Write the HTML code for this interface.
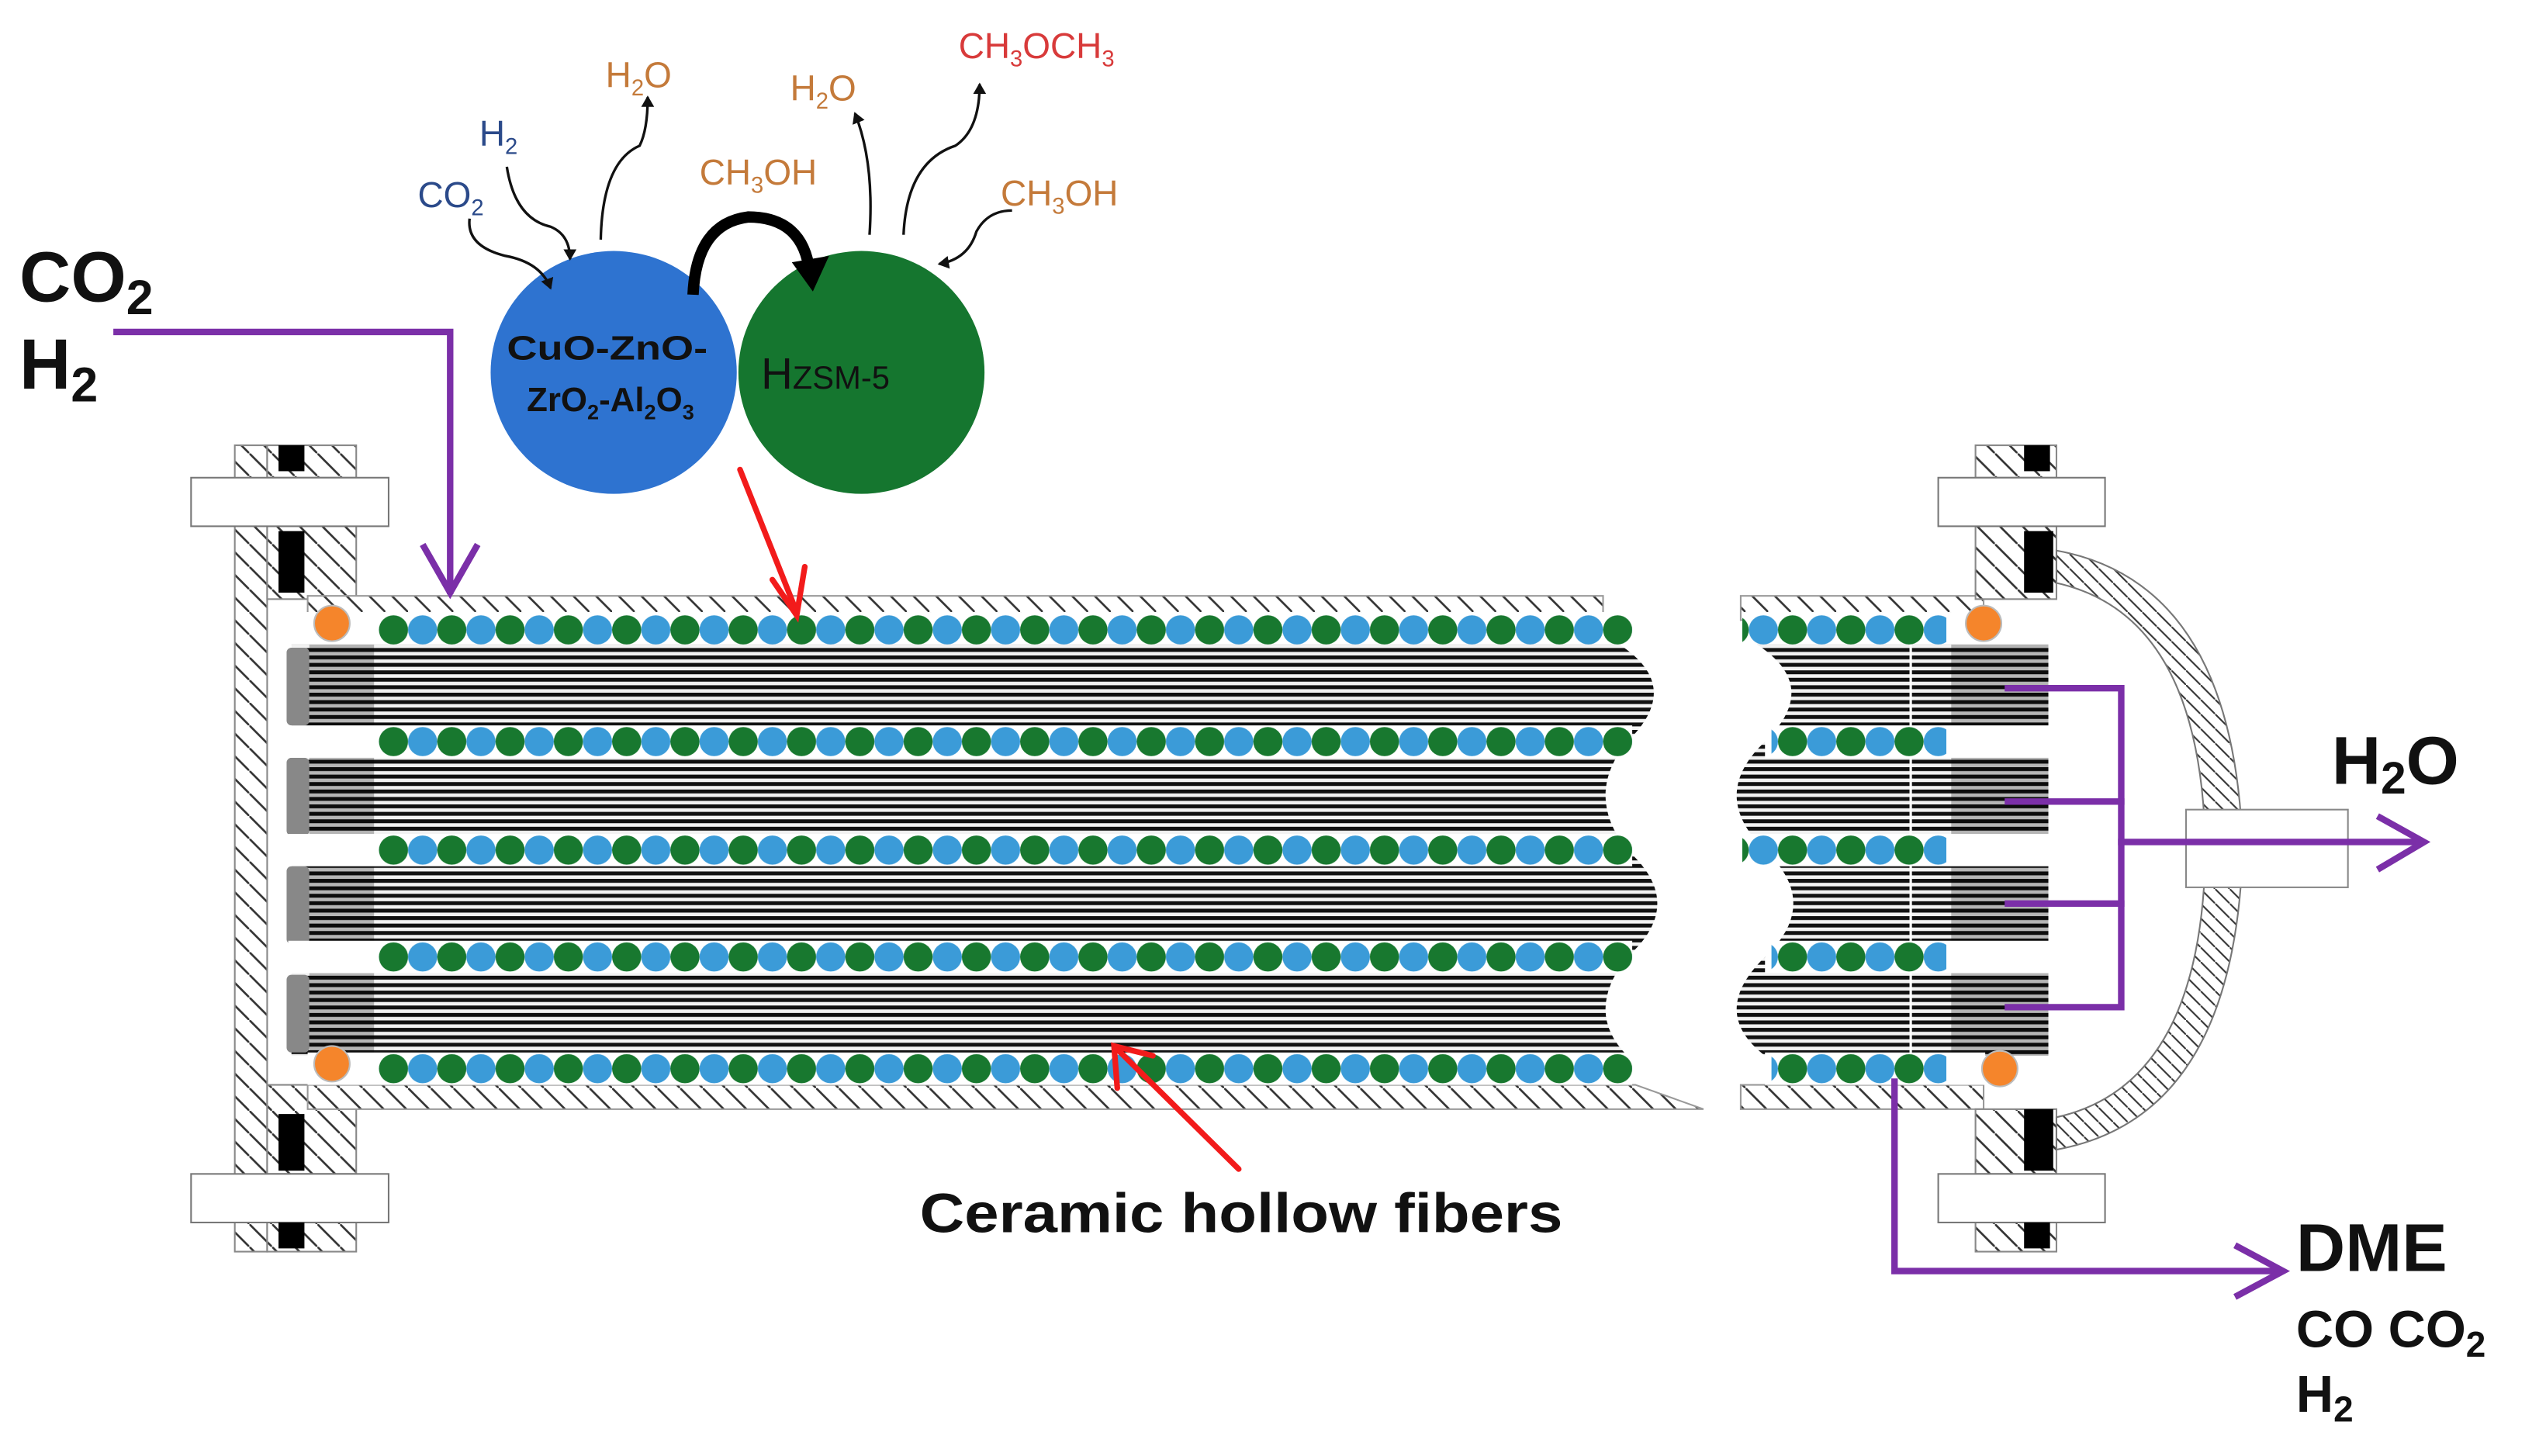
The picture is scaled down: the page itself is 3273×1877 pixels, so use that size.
<!DOCTYPE html>
<html><head><meta charset="utf-8"><style>
html,body{margin:0;padding:0;background:#fff;}
svg{display:block;}
text{font-family:"Liberation Sans",Arial,sans-serif;}
</style></head><body>
<svg width="3273" height="1877" viewBox="0 0 1568 899.2" xmlns="http://www.w3.org/2000/svg">
<defs>
<pattern id="stripes" patternUnits="userSpaceOnUse" width="20" height="4.6">
<rect width="20" height="4.6" fill="#f2f2f2"/>
<rect y="0" width="20" height="2.4" fill="#111"/>
</pattern>
<pattern id="hatch" patternUnits="userSpaceOnUse" width="14" height="14">
<rect width="14" height="14" fill="#fff"/>
<line x1="0" y1="0" x2="14" y2="14" stroke="#333" stroke-width="1.3"/>
</pattern>
<pattern id="hatch2" patternUnits="userSpaceOnUse" width="9" height="9">
<rect width="9" height="9" fill="#fff"/>
<line x1="0" y1="0" x2="9" y2="9" stroke="#333" stroke-width="1"/>
</pattern>
<pattern id="beads" patternUnits="userSpaceOnUse" x="234" y="0" width="36" height="20">
<circle cx="9" cy="10" r="9" fill="#18782f"/>
<circle cx="27" cy="10" r="9" fill="#3b9bd8"/>
</pattern>
<marker id="ab" markerWidth="8" markerHeight="8" refX="6" refY="4" orient="auto" markerUnits="userSpaceOnUse"><path d="M0,0 L7,4 L0,8 Z" fill="#111"/></marker>
</defs>

<rect x="145" y="275" width="20" height="498" fill="url(#hatch)" stroke="#888" stroke-width="1"/>
<rect x="165" y="275" width="55" height="20" fill="url(#hatch)" stroke="#888"/>
<rect x="165" y="325" width="55" height="45" fill="url(#hatch)" stroke="#888"/>
<rect x="165" y="670" width="55" height="55" fill="url(#hatch)" stroke="#888"/>
<rect x="165" y="755" width="55" height="18" fill="url(#hatch)" stroke="#888"/>
<rect x="118" y="295" width="122" height="30" fill="#fff" stroke="#777"/>
<rect x="118" y="725" width="122" height="30" fill="#fff" stroke="#777"/>
<rect x="172" y="275" width="16" height="16" fill="#000"/>
<rect x="172" y="328" width="16" height="38" fill="#000"/>
<rect x="172" y="688" width="16" height="35" fill="#000"/>
<rect x="172" y="755" width="16" height="16" fill="#000"/>

<rect x="190" y="368" width="800" height="15" fill="url(#hatch)" stroke="#999"/>
<polygon points="190,670 1010,670 1052,685 190,685" fill="url(#hatch)" stroke="#999"/>
<rect x="1075" y="368" width="150" height="15" fill="url(#hatch)" stroke="#999"/>
<rect x="1075" y="670" width="150" height="15" fill="url(#hatch)" stroke="#999"/>

<path d="M180,398 L1000,398 Q1040,424 1005,458 Q978,491 1005,525 Q1042,558 1005,591 Q978,625 1005,652 L180,652 Z" fill="url(#stripes)"/>
<path d="M1085,398 Q1125,424 1090,458 Q1055,491 1090,525 Q1125,558 1090,591 Q1055,625 1090,652 L1265,652 L1265,398 Z" fill="url(#stripes)"/>
<line x1="1180" y1="385" x2="1180" y2="670" stroke="#fff" stroke-width="1.5"/>
<rect x="177" y="400" width="14" height="48" rx="3" fill="#888"/>
<rect x="177" y="468" width="14" height="48" rx="3" fill="#888"/>
<rect x="177" y="535" width="14" height="48" rx="3" fill="#888"/>
<rect x="177" y="602" width="14" height="48" rx="3" fill="#888"/>
<rect x="191" y="398" width="40" height="254" fill="#000" opacity="0.25"/>
<rect x="1205" y="398" width="60" height="254" fill="#000" opacity="0.25"/>

<g transform="translate(0,379)"><rect x="178" y="-1" width="830" height="20" fill="#fff"/><rect x="234" y="0" width="774" height="20" fill="url(#beads)"/></g>
<g transform="translate(0,448)"><rect x="178" y="0" width="830" height="20" fill="#fff"/><rect x="234" y="0" width="774" height="20" fill="url(#beads)"/></g>
<g transform="translate(0,515)"><rect x="178" y="0" width="830" height="20" fill="#fff"/><rect x="234" y="0" width="774" height="20" fill="url(#beads)"/></g>
<g transform="translate(0,581)"><rect x="178" y="0" width="830" height="20" fill="#fff"/><rect x="234" y="0" width="774" height="20" fill="url(#beads)"/></g>
<g transform="translate(0,650)"><rect x="190" y="0" width="818" height="20" fill="#fff"/><rect x="234" y="0" width="774" height="20" fill="url(#beads)"/></g>

<g transform="translate(0,379)"><rect x="1076" y="-1" width="190" height="20" fill="#fff"/><rect x="1076" y="0" width="126" height="20" fill="url(#beads)"/></g>
<g transform="translate(0,448)"><rect x="1090" y="0" width="176" height="20" fill="#fff"/><rect x="1094" y="0" width="108" height="20" fill="url(#beads)"/></g>
<g transform="translate(0,515)"><rect x="1070" y="0" width="196" height="20" fill="#fff"/><rect x="1076" y="0" width="126" height="20" fill="url(#beads)"/></g>
<g transform="translate(0,581)"><rect x="1090" y="0" width="176" height="20" fill="#fff"/><rect x="1094" y="0" width="108" height="20" fill="url(#beads)"/></g>
<g transform="translate(0,650)"><rect x="1090" y="0" width="136" height="20" fill="#fff"/><rect x="1094" y="0" width="108" height="20" fill="url(#beads)"/></g>

<circle cx="205" cy="385" r="11" fill="#f5852b" stroke="#bbb"/>
<circle cx="205" cy="657" r="11" fill="#f5852b" stroke="#bbb"/>
<circle cx="1225" cy="385" r="11" fill="#f5852b" stroke="#bbb"/>
<circle cx="1235" cy="660" r="11" fill="#f5852b" stroke="#bbb"/>

<rect x="1220" y="275" width="50" height="20" fill="url(#hatch)" stroke="#888"/>
<rect x="1220" y="325" width="50" height="45" fill="url(#hatch)" stroke="#888"/>
<rect x="1220" y="685" width="50" height="40" fill="url(#hatch)" stroke="#888"/>
<rect x="1220" y="755" width="50" height="18" fill="url(#hatch)" stroke="#888"/>
<rect x="1197" y="295" width="103" height="30" fill="#fff" stroke="#777"/>
<rect x="1197" y="725" width="103" height="30" fill="#fff" stroke="#777"/>
<rect x="1250" y="275" width="16" height="16" fill="#000"/>
<rect x="1250" y="328" width="18" height="38" fill="#000"/>
<rect x="1250" y="685" width="18" height="38" fill="#000"/>
<rect x="1250" y="755" width="16" height="16" fill="#000"/>
<path d="M1270,340 Q1380,360 1385,525 Q1380,690 1270,710 L1270,690 Q1360,670 1362,525 Q1360,380 1270,360 Z" fill="url(#hatch2)" stroke="#777" stroke-width="1"/>
<rect x="1350" y="500" width="100" height="48" fill="#fff" stroke="#888"/>

<g stroke="#7b2fa8" stroke-width="4" fill="none" stroke-linecap="square">
<path d="M1240,425 H1310 V622 H1240"/>
<path d="M1240,495 H1310"/>
<path d="M1240,558 H1310"/>
<path d="M1310,520 H1495"/>
<path d="M1470,505 L1497,520 L1470,536"/>
<path d="M72,205 H278 V365"/>
<path d="M262,338 L278,366 L294,338"/>
<path d="M1170,668 V785 H1408"/>
<path d="M1382,770 L1410,785 L1382,800"/>
</g>

<g stroke="#f21b1b" stroke-width="3.5" fill="none" stroke-linecap="round">
<path d="M457,290 L492,378"/>
<path d="M477,358 L492,380 L497,350"/>
<path d="M765,722 L690,648"/>
<path d="M690,672 L688,646 L712,652"/>
</g>

<ellipse cx="379" cy="230" rx="76" ry="75" fill="#2e73d0"/>
<ellipse cx="532" cy="230" rx="76" ry="75" fill="#15762f"/>
<text x="375" y="222" font-size="21" font-weight="bold" text-anchor="middle" fill="#111" textLength="124" lengthAdjust="spacingAndGlyphs">CuO-ZnO-</text>
<text x="377" y="254" font-size="21" font-weight="bold" text-anchor="middle" fill="#111">ZrO<tspan font-size="13" dy="5">2</tspan><tspan dy="-5">-Al</tspan><tspan font-size="13" dy="5">2</tspan><tspan dy="-5">O</tspan><tspan font-size="13" dy="5">3</tspan></text>
<text x="470" y="240" font-size="27" fill="#111">H<tspan font-size="20">ZSM-5</tspan></text>

<path d="M428,182 Q430,138 462,134 Q496,134 500,168" stroke="#000" stroke-width="7" fill="none"/>
<path d="M489,162 L502,180 L512,158 Z" fill="#000"/>
<g stroke="#111" stroke-width="1.6" fill="none" marker-end="url(#ab)">
<path d="M290,135 Q288,152 312,158 Q334,162 340,178"/>
<path d="M313,103 Q318,135 340,140 Q352,145 352,160"/>
<path d="M371,148 Q372,100 395,90 Q400,80 400,60"/>
<path d="M537,145 Q540,100 528,70"/>
<path d="M558,145 Q560,100 590,90 Q605,80 605,52"/>
<path d="M625,130 Q610,130 603,143 Q598,160 580,163"/>
</g>
<text x="258" y="128" font-size="22" fill="#2b4a8a">CO<tspan font-size="14" dy="5">2</tspan></text>
<text x="296" y="90" font-size="22" fill="#2b4a8a">H<tspan font-size="14" dy="5">2</tspan></text>
<text x="374" y="54" font-size="22" fill="#c47a3a">H<tspan font-size="14" dy="5">2</tspan><tspan dy="-5">O</tspan></text>
<text x="488" y="62" font-size="22" fill="#c47a3a">H<tspan font-size="14" dy="5">2</tspan><tspan dy="-5">O</tspan></text>
<text x="432" y="114" font-size="22" fill="#c47a3a">CH<tspan font-size="14" dy="5">3</tspan><tspan dy="-5">OH</tspan></text>
<text x="618" y="127" font-size="22" fill="#c47a3a">CH<tspan font-size="14" dy="5">3</tspan><tspan dy="-5">OH</tspan></text>
<text x="592" y="36" font-size="22" fill="#d83a3a">CH<tspan font-size="14" dy="5">3</tspan><tspan dy="-5">OCH</tspan><tspan font-size="14" dy="5">3</tspan></text>

<text x="12" y="186" font-size="44" font-weight="bold" fill="#111">CO<tspan font-size="30" dy="8">2</tspan></text>
<text x="12" y="240" font-size="44" font-weight="bold" fill="#111">H<tspan font-size="30" dy="8">2</tspan></text>
<text x="1440" y="484" font-size="42" font-weight="bold" fill="#111">H<tspan font-size="28" dy="6">2</tspan><tspan dy="-6">O</tspan></text>
<text x="1418" y="785" font-size="42" font-weight="bold" fill="#111">DME</text>
<text x="1418" y="832" font-size="32" font-weight="bold" fill="#111">CO CO<tspan font-size="22" dy="6">2</tspan></text>
<text x="1418" y="872" font-size="32" font-weight="bold" fill="#111">H<tspan font-size="22" dy="6">2</tspan></text>
<text x="568" y="761" font-size="34" font-weight="bold" fill="#111" textLength="397" lengthAdjust="spacingAndGlyphs">Ceramic hollow fibers</text>
</svg>
</body></html>
